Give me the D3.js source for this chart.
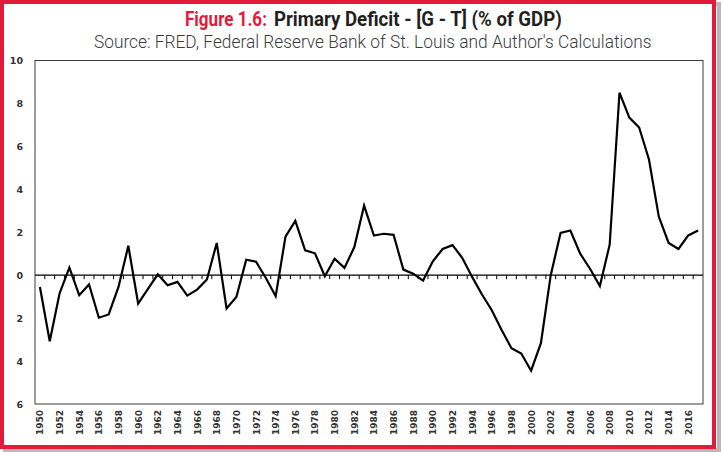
<!DOCTYPE html>
<html>
<head>
<meta charset="utf-8">
<script src="https://cdn.jsdelivr.net/npm/d3@7"></script>
<style>
  body { margin: 0; background: #fff; }
  svg { display: block; }
</style>
</head>
<body>
<div id="chart"></div>
<script>
// years 1950-2017
const years = d3.range(1950, 2018);
// primary deficit G - T, % of GDP
const deficit = [
  -0.55, -3.08, -0.85, 0.35, -0.93, -0.43, -1.98, -1.83, -0.55, 1.37,
  -1.32, -0.64, 0.04, -0.47, -0.31, -0.95, -0.67, -0.2, 1.5, -1.55,
  -1.02, 0.72, 0.63, -0.13, -0.98, 1.8, 2.53, 1.16, 1.02, -0.05,
  0.77, 0.34, 1.3, 3.24, 1.85, 1.93, 1.88, 0.26, 0.07, -0.25,
  0.65, 1.22, 1.4, 0.8, -0.08, -0.9, -1.63, -2.55, -3.4, -3.65,
  -4.45, -3.17, 0.0, 1.97, 2.08, 1.0, 0.3, -0.5, 1.42, 8.5,
  7.34, 6.88, 5.39, 2.73, 1.5, 1.22, 1.85, 2.08
];
const yTicks = [-6, -4, -2, 0, 2, 4, 6, 8, 10];
const yearLabels = years.filter(y => y % 2 === 0 && y <= 2016);

const width = 722, height = 452;
const margin = { top: 60.5, right: 19, bottom: 48, left: 35 };

const svg = d3.select("#chart").append("svg")
  .attr("width", width)
  .attr("height", height);

// red frame with a grey shadow
svg.append("rect")
  .attr("x", 5).attr("y", 4)
  .attr("width", 714).attr("height", 446)
  .attr("fill", "none")
  .attr("stroke", "#b8b8b8")
  .attr("stroke-width", 4);
svg.append("rect")
  .attr("x", 2).attr("y", 2)
  .attr("width", 712).attr("height", 445)
  .attr("fill", "#fff")
  .attr("stroke", "#e31b3a")
  .attr("stroke-width", 4);

// titles: squeeze horizontally to get the condensed look
const titleFont = "Roboto, 'Liberation Sans', sans-serif";
function condensed(x0, y0, target, size, weight, color, str) {
  const t = svg.append("text")
    .attr("x", 0).attr("y", 0)
    .style("font-family", titleFont)
    .style("font-weight", weight)
    .style("font-size", size + "px")
    .attr("fill", color)
    .text(str);
  const w = t.node().getComputedTextLength();
  t.attr("transform", `translate(${x0},${y0}) scale(${target / w},1)`);
}
condensed(185, 26, 82, 20.5, "bold", "#e31b3a", "Figure 1.6:");
condensed(274, 26, 288, 20.5, "bold", "#231f20", "Primary Deficit - [G - T] (% of GDP)");
condensed(94, 48, 558, 19, "300", "#3c3c3c",
  "Source: FRED, Federal Reserve Bank of St. Louis and Author's Calculations");

const x = d3.scaleBand()
  .domain(years)
  .range([margin.left, width - margin.right]);

const y = d3.scaleLinear()
  .domain([-6, 10])
  .range([height - margin.bottom, margin.top]);

// plot box
svg.append("rect")
  .attr("x", margin.left).attr("y", margin.top)
  .attr("width", width - margin.right - margin.left)
  .attr("height", y(-6) - margin.top)
  .attr("fill", "none")
  .attr("stroke", "#3a3a3a")
  .attr("stroke-width", 1);

// y axis labels (no minus signs, as in the original)
const yAxis = svg.append("g")
  .attr("transform", `translate(${margin.left},0)`)
  .call(d3.axisLeft(y).tickValues(yTicks).tickSize(0).tickPadding(12)
    .tickFormat(d => Math.abs(d)));
yAxis.select(".domain").remove();
yAxis.selectAll("text")
  .style("font-family", "'DejaVu Sans', Verdana, sans-serif")
  .style("font-weight", "bold")
  .style("font-size", "9.5px")
  .attr("fill", "#333");

// zero axis with ticks between categories
svg.append("line")
  .attr("x1", margin.left).attr("x2", width - margin.right)
  .attr("y1", y(0)).attr("y2", y(0))
  .attr("stroke", "#000").attr("stroke-width", 1.2);
svg.selectAll("line.cat-tick")
  .data(years.slice(1))
  .enter().append("line")
  .attr("class", "cat-tick")
  .attr("x1", d => x(d)).attr("x2", d => x(d))
  .attr("y1", y(0)).attr("y2", y(0) + 4)
  .attr("stroke", "#000").attr("stroke-width", 1);

// x labels at bottom, rotated
svg.selectAll("text.year")
  .data(yearLabels)
  .enter().append("text")
  .attr("class", "year")
  .attr("transform", d => `translate(${x(d) + x.bandwidth() / 2 + 3.5},${y(-6) + 6}) rotate(-90)`)
  .attr("text-anchor", "end")
  .style("font-family", "'DejaVu Sans', Verdana, sans-serif")
  .style("font-weight", "bold")
  .style("font-size", "9px")
  .attr("fill", "#333")
  .text(d => d);

// the line
const line = d3.line()
  .x((d, i) => x(years[i]) + x.bandwidth() / 2)
  .y(d => y(d));

svg.append("path")
  .datum(deficit)
  .attr("fill", "none")
  .attr("stroke", "#000")
  .attr("stroke-width", 2.2)
  .attr("stroke-linejoin", "miter")
  .attr("d", line);
</script>
</body>
</html>
